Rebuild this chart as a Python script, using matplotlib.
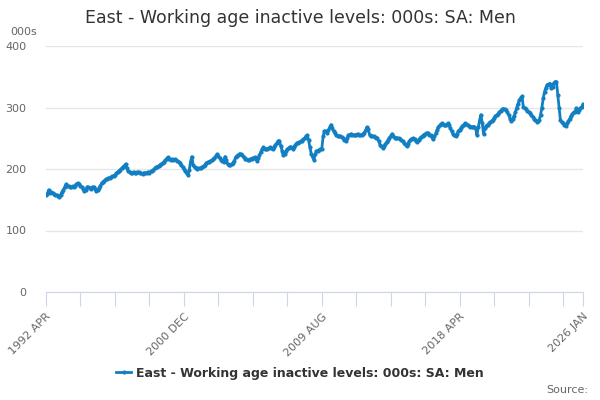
import matplotlib
matplotlib.use("Agg")
import matplotlib.pyplot as plt
import numpy as np

title = "East - Working age inactive levels: 000s: SA: Men"
series_name = "East - Working age inactive levels: 000s: SA: Men"
tick_labels = {0: "1992 APR", 104: "2000 DEC", 208: "2009 AUG", 312: "2018 APR", 405: "2026 JAN"}

# Monthly values from 1992 APR to 2026 JAN (thousands)
values = [
    158, 160, 166, 161, 162, 161, 159, 158, 158, 156, 155, 158,
    162, 166, 170, 175, 173, 172, 171, 170, 172, 171, 173, 175,
    177, 175, 173, 171, 168, 164, 166, 171, 170, 169, 168, 170,
    171, 168, 164, 166, 169, 173, 177, 179, 181, 183, 184, 185,
    186, 187, 188, 189, 190, 193, 195, 197, 199, 201, 203, 205,
    208, 201, 196, 195, 194, 194, 195, 194, 193, 195, 195, 194,
    193, 192, 194, 193, 194, 195, 194, 196, 197, 199, 201, 203,
    204, 205, 207, 208, 210, 212, 214, 217, 219, 217, 215, 216,
    215, 216, 214, 213, 212, 209, 206, 203, 200, 197, 193, 190,
    198, 212, 220, 206, 203, 201, 200, 201, 201, 202, 204, 205,
    207, 210, 211, 212, 213, 214, 216, 218, 221, 224, 221, 218,
    215, 213, 212, 220, 214, 208, 206, 207, 208, 210, 213, 219,
    221, 223, 225, 224, 222, 219, 217, 216, 215, 215, 216, 217,
    218, 218, 219, 213, 218, 222, 228, 232, 235, 233, 232, 233,
    234, 235, 234, 232, 236, 239, 242, 245, 246, 238, 230, 222,
    224, 229, 232, 234, 236, 235, 233, 236, 239, 242, 243, 244,
    245, 246, 248, 250, 253, 255, 247, 236, 225, 220, 215, 224,
    229, 230, 231, 232, 233, 253, 262, 261, 258, 263, 268, 272,
    266, 261, 258, 255, 254, 253, 253, 252, 251, 247, 246, 250,
    255, 256, 257, 256, 255, 255, 256, 257, 256, 255, 255, 257,
    259, 263, 268, 265, 256, 254, 254, 253, 252, 251, 250, 245,
    239, 237, 234, 237, 241, 244, 247, 251, 254, 257, 254, 251,
    251, 250, 250, 248, 247, 245, 242, 240, 237, 241, 245, 248,
    249, 250, 248, 245, 244, 247, 250, 252, 254, 256, 257, 259,
    258, 256, 255, 252, 248, 253, 258, 264, 269, 271, 273, 274,
    272, 271, 272, 274, 271, 266, 261, 257, 255, 253, 257, 261,
    264, 267, 270, 272, 274, 273, 271, 270, 269, 269, 268, 269,
    266, 255, 268, 279, 288, 275, 257, 266, 270, 272, 274, 276,
    278, 280, 283, 286, 288, 290, 293, 295, 297, 298, 297, 296,
    292, 288, 282, 278, 282, 286, 292, 300, 306, 312, 316, 318,
    301, 299, 297, 295, 293, 291, 288, 285, 282, 280, 277, 278,
    280, 288, 300, 315, 326, 332, 337, 338, 339, 331, 334, 340,
    342, 342, 320, 300, 279, 276, 274, 272, 270, 274, 278, 282,
    286, 290, 292, 293, 299, 293, 296, 299, 301, 305,
]
yticks = [0, 100, 200, 300, 400]

color = "#137fc3"
fig = plt.figure(figsize=(6, 4), dpi=100)
ax = fig.add_axes([46/600, 1-292/400, (583-46)/600, (292-46)/400])

x = np.arange(len(values))
ax.plot(x, values, color=color, lw=2, marker="o", ms=3, mew=0, label=series_name, zorder=3)

ax.set_xlim(0, len(values) - 1)
ax.set_ylim(0, 400)
ax.set_yticks(yticks)
ax.set_yticklabels([str(v) for v in yticks])
ax.grid(axis="y", color="#e6e6e6", lw=1)
ax.set_axisbelow(True)

xt = list(range(0, len(values), 26))
if xt[-1] != len(values) - 1:
    xt.append(len(values) - 1)
ax.set_xticks(xt)
ax.set_xticklabels([tick_labels.get(t, "") for t in xt], rotation=45, ha="right",
                   rotation_mode="anchor", fontsize=8, color="#666666")

for s in ["top", "right", "left"]:
    ax.spines[s].set_visible(False)
ax.spines["bottom"].set_color("#ccd6eb")
ax.tick_params(axis="x", length=10, color="#ccd6eb", pad=4)
ax.tick_params(axis="y", length=0, labelsize=8, labelcolor="#666666", pad=14)

fig.text(0.5, 1-18/400, title, ha="center", va="center", fontsize=12.5, color="#333333")
fig.text(10/600, 1-32/400, "000s", ha="left", va="center", fontsize=8, color="#666666")
fig.text(588/600, 1-390/400, "Source:", ha="right", va="center", fontsize=8, color="#666666")

leg = fig.legend(loc="center", bbox_to_anchor=(0.5, 1-373/400), frameon=False,
                 prop={"weight": "bold", "size": 9}, handlelength=1.2, handletextpad=0.4)
for t in leg.get_texts():
    t.set_color("#333333")

fig.savefig("out.png", dpi=100)
